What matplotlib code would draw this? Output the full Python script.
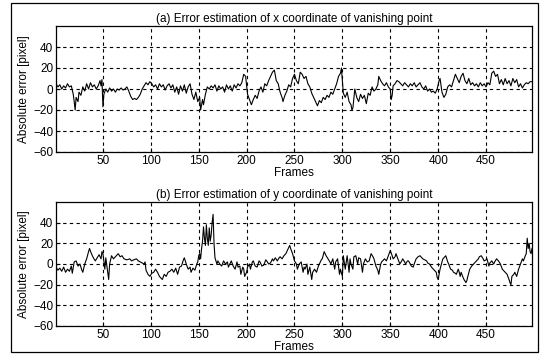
import matplotlib
matplotlib.use("Agg")
import matplotlib.pyplot as plt
from matplotlib.patches import Rectangle

# (a) error of x coordinate of vanishing point
frames_x = [1, 3, 5, 7, 9, 11, 13, 15, 17, 19, 20, 21, 22, 24, 25, 27, 29, 31, 33, 35,
            37, 39, 41, 43, 45, 47, 48, 49, 50, 51, 53, 55, 57, 59, 61, 63, 65, 67, 69, 71,
            73, 75, 77, 79, 81, 83, 85, 87, 89, 91, 93, 95, 97, 99, 101, 103, 105, 107, 109, 111,
            113, 115, 117, 119, 121, 123, 125, 127, 129, 131, 133, 135, 137, 139, 141, 143, 145, 147, 149, 151,
            152, 154, 155, 157, 159, 161, 163, 165, 167, 169, 171, 173, 175, 177, 179, 181, 183, 185, 187, 189,
            191, 193, 195, 197, 199, 201, 203, 205, 207, 209, 211, 213, 215, 217, 219, 221, 223, 225, 227, 229,
            231, 233, 235, 237, 238, 240, 242, 244, 246, 248, 250, 252, 254, 256, 258, 260, 262, 264, 266, 268,
            270, 272, 274, 276, 278, 280, 282, 284, 286, 288, 290, 292, 294, 296, 298, 299, 300, 301, 303, 305,
            307, 309, 310, 311, 313, 315, 317, 319, 321, 323, 325, 327, 329, 331, 333, 335, 337, 338, 340, 342,
            344, 346, 348, 350, 351, 352, 353, 355, 357, 359, 361, 363, 365, 367, 369, 371, 373, 375, 377, 379,
            381, 383, 385, 387, 389, 391, 393, 395, 397, 399, 401, 402, 404, 406, 408, 410, 412, 414, 416, 418,
            420, 422, 424, 426, 428, 430, 432, 434, 436, 438, 440, 442, 444, 446, 448, 450, 452, 454, 456, 458,
            460, 462, 464, 466, 468, 470, 472, 474, 476, 478, 480, 482, 484, 486, 488, 490, 492, 494, 496, 498]
err_x = [5, 2, 4, 0, 3, 1, 5, 2, 3, -5, -12, -20, -8, -12, -3, -6, 2, -2, 5, 0,
         6, 2, 4, 0, 3, 8, 3, 9, -17, -5, 0, -3, 1, -2, 0, -3, 0, -1, 1, -1,
         0, 2, -2, -7, -10, -9, -10, -8, -5, 0, 3, 6, 4, 7, 5, 2, 4, 0, 5, 2,
         4, -1, 3, 5, 1, 4, -3, 2, -5, 3, -2, 4, -4, 2, 5, -5, -10, -3, -12, -8,
         -20, -10, -15, -5, 2, 0, 3, 1, 4, -2, 3, 0, 2, -3, 4, 0, 3, -2, 4, 1,
         5, 3, 6, 14, 12, -5, -10, -15, -10, -6, -9, -2, 2, -3, 5, 3, 8, 12, 16, 18,
         8, 5, -3, -8, -12, -6, -2, 4, 2, 10, 14, 8, 5, 16, 14, 10, 12, 5, 2, -4,
         -8, -12, -16, -11, -13, -8, -10, -6, -8, -3, -5, 0, 5, 12, 15, 20, 8, -4, -8, -3,
         -12, -15, -20, -18, 0, -8, -12, -5, -9, -6, -14, -4, -6, 2, -2, 0, 4, 12, 8, 5,
         3, 6, 2, 0, -10, -6, 3, 5, 8, 7, 5, 3, 6, 4, 2, 5, 3, 6, 2, 4,
         6, 2, 0, 3, -2, 0, -3, -2, -4, 0, 8, 10, -3, -8, -5, 2, 4, 2, 8, 14,
         10, 6, 12, 15, 8, 5, 10, 4, 6, 3, 5, 2, 6, 3, 5, 2, 6, 4, 15, 17,
         12, 14, 5, 9, 4, 10, 5, 8, 3, 10, 6, 9, 2, 5, 1, 4, 6, 5, 7, 7]

# (b) error of y coordinate of vanishing point
frames_y = [1, 3, 5, 7, 9, 11, 13, 15, 17, 18, 20, 22, 24, 26, 28, 29, 31, 33, 35, 36,
            38, 40, 42, 44, 46, 48, 49, 50, 52, 53, 55, 56, 57, 59, 61, 63, 66, 68, 70, 72,
            75, 78, 80, 82, 85, 87, 89, 91, 93, 94, 95, 97, 99, 101, 103, 105, 107, 109, 111, 112,
            114, 116, 118, 120, 122, 124, 126, 128, 130, 132, 134, 135, 137, 139, 141, 142, 144, 146, 148, 149,
            150, 151, 152, 153, 154, 155, 156, 157, 158, 159, 160, 161, 162, 163, 164, 165, 166, 167, 169, 170,
            172, 174, 176, 178, 180, 181, 183, 184, 186, 188, 190, 191, 193, 194, 196, 197, 198, 200, 201, 203,
            204, 206, 207, 209, 211, 213, 214, 216, 218, 220, 221, 223, 225, 227, 228, 230, 232, 234, 235, 237,
            239, 241, 242, 244, 245, 246, 248, 250, 252, 253, 255, 257, 259, 260, 261, 263, 264, 266, 268, 269,
            271, 273, 275, 276, 278, 279, 281, 283, 285, 287, 288, 290, 292, 293, 295, 297, 298, 300, 301, 303,
            305, 307, 308, 309, 311, 312, 314, 316, 317, 319, 321, 322, 324, 326, 328, 330, 332, 333, 335, 337,
            338, 340, 341, 343, 344, 346, 348, 350, 352, 353, 355, 356, 358, 360, 362, 363, 365, 366, 368, 369,
            371, 372, 374, 375, 377, 379, 381, 383, 384, 386, 388, 389, 391, 393, 395, 397, 398, 399, 400, 401,
            402, 404, 405, 407, 408, 410, 411, 413, 415, 416, 418, 419, 421, 422, 423, 424, 426, 427, 429, 430,
            431, 433, 435, 437, 439, 440, 442, 443, 445, 447, 448, 450, 451, 453, 454, 456, 458, 459, 461, 463,
            465, 467, 469, 470, 472, 474, 475, 476, 477, 479, 480, 482, 484, 486, 488, 489, 491, 492, 493, 494,
            495, 496, 497, 498]
err_y = [-3, -6, -4, -7, -3, -8, -5, -7, -2, -9, 2, 3, -2, 0, -6, -8, 0, 5, 12, 15,
         10, 6, 3, 6, 9, 5, 12, 10, -5, 6, -8, -15, 0, 8, 5, 7, 10, 7, 8, 5,
         4, 5, 3, 4, 5, 3, 2, 1, 0, 2, -6, -10, -12, -9, -8, -5, -8, -12, -14, -15,
         -10, -12, -8, -7, -5, -8, -4, -10, -3, -2, 4, 6, 0, -5, -3, -8, -4, -6, 0, 2,
         8, 10, 5, 15, 22, 36, 25, 18, 38, 25, 18, 35, 22, 28, 40, 48, 20, 6, 0, 3,
         0, -2, 3, 0, 2, -3, 1, 3, -2, -5, 2, -3, -2, -10, -3, -5, -12, -8, -3, 0,
         -5, 2, 3, -2, -3, 3, 2, -2, -1, 4, 3, 0, 1, 5, 3, 6, 3, 6, 7, 5,
         8, 10, 12, 16, 18, 15, 10, 3, 0, -5, 0, 2, -8, -3, -5, 0, -10, -3, -15, -8,
         -5, -8, -2, 0, 4, 5, 12, 8, 5, 2, 0, 5, -5, 2, 5, -10, -5, -12, 8, -5,
         8, -8, 5, 0, -5, 7, 8, 0, 6, 5, -8, 0, 5, 2, 3, 10, 7, 5, -2, -6,
         -10, 0, 2, 4, 5, 3, 8, 13, 8, 5, 7, 10, 5, 0, 3, 5, 2, 0, 3, 3,
         0, -2, -3, 0, 5, 7, 8, 6, 5, 4, 3, 1, 0, -3, -5, -7, -8, -13, -15, -10,
         -5, 2, 5, 7, 8, 2, 0, -5, -6, -8, -9, -10, -5, -8, -12, -8, -13, -15, -18, -16,
         -12, -5, -2, 0, 2, 3, 5, 7, 8, 5, 3, 4, 5, -2, 1, 3, 0, 2, 5, 3,
         0, -5, -7, -8, -10, -15, -18, -20, -12, -10, -8, -12, -5, 0, 5, 3, 8, 10, 25, 15,
         20, 12, 10, 15]

titles = ["(a) Error estimation of x coordinate of vanishing point",
          "(b) Error estimation of y coordinate of vanishing point"]
x_ticks = [50, 100, 150, 200, 250, 300, 350, 400, 450]
y_ticks = [-60, -40, -20, 0, 20, 40]

plt.rcParams["font.family"] = ["Liberation Sans", "DejaVu Sans"]
plt.rcParams["font.size"] = 8

W, H = 543, 354
fig = plt.figure(figsize=(W / 100, H / 100), dpi=100)

# frame around the whole figure (scanned look)
fig.patches.append(Rectangle((11 / W, 2 / H), 527 / W, 349 / H, transform=fig.transFigure,
                             fill=False, edgecolor="black", linewidth=0.9))

boxes = [(56, 26, 532, 152), (56, 202, 532, 326)]
series = [(frames_x, err_x), (frames_y, err_y)]

for (x0, y0, x1, y1), (fr, err), title in zip(boxes, series, titles):
    ax = fig.add_axes([x0 / W, 1 - y1 / H, (x1 - x0) / W, (y1 - y0) / H])
    ax.plot(fr, err, color="black", linewidth=0.8)
    ax.set_xlim(1, 498)
    ax.set_ylim(-60, 60)
    ax.set_xticks(x_ticks)
    ax.set_yticks(y_ticks)
    ax.grid(True, color="black", linestyle=(0, (3, 3)), linewidth=0.8)
    ax.tick_params(direction="in", length=3, width=0.8, labelsize=8.5, pad=2)
    for s in ax.spines.values():
        s.set_linewidth(0.9)
    ax.set_title(title, fontsize=8.5, pad=3)
    ax.set_xlabel("Frames", fontsize=8.5, labelpad=0)
    ax.set_ylabel("Absolute error [pixel]", fontsize=8.5, labelpad=2)

fig.savefig("out.png", dpi=100)
